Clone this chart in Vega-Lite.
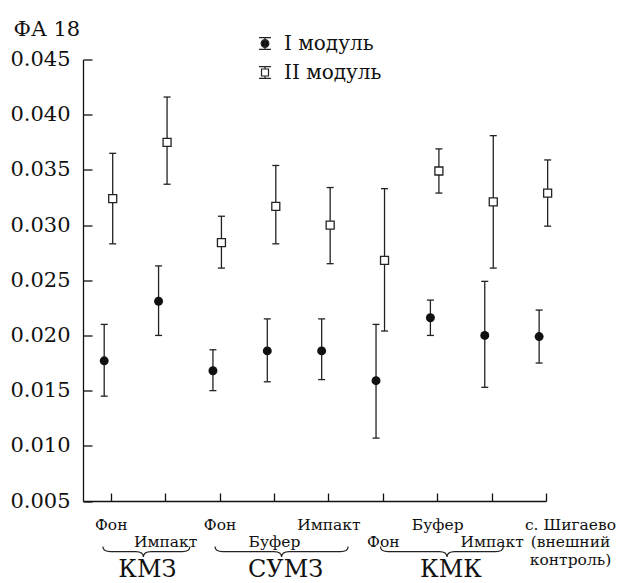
{
  "$schema": "https://vega.github.io/schema/vega-lite/v6.json",
  "width": 463,
  "height": 441.5,
  "autosize": "none",
  "padding": {"left": 83, "top": 59.5, "right": 73, "bottom": 82},
  "background": "white",
  "config": {
    "view": {"stroke": null},
    "font": "DejaVu Serif",
    "text": {"font": "DejaVu Serif"},
    "axis": {"grid": false, "domainColor": "#111", "tickColor": "#111", "labelColor": "#111", "titleColor": "#111", "labelFont": "DejaVu Serif", "titleFont": "DejaVu Serif", "domainWidth": 1.3, "tickWidth": 1.3},
    "legend": {"labelFont": "DejaVu Serif"}
  },
  "datasets": {
    "fa": [
      {"site": "КМЗ", "zone": "Фон", "idx": 1, "module": "I модуль", "mean": 0.0177, "lo": 0.0145, "hi": 0.0210},
      {"site": "КМЗ", "zone": "Фон", "idx": 1, "module": "II модуль", "mean": 0.0324, "lo": 0.0283, "hi": 0.0365},
      {"site": "КМЗ", "zone": "Импакт", "idx": 2, "module": "I модуль", "mean": 0.0231, "lo": 0.0200, "hi": 0.0263},
      {"site": "КМЗ", "zone": "Импакт", "idx": 2, "module": "II модуль", "mean": 0.0375, "lo": 0.0337, "hi": 0.0416},
      {"site": "СУМЗ", "zone": "Фон", "idx": 3, "module": "I модуль", "mean": 0.0168, "lo": 0.0150, "hi": 0.0187},
      {"site": "СУМЗ", "zone": "Фон", "idx": 3, "module": "II модуль", "mean": 0.0284, "lo": 0.0261, "hi": 0.0308},
      {"site": "СУМЗ", "zone": "Буфер", "idx": 4, "module": "I модуль", "mean": 0.0186, "lo": 0.0158, "hi": 0.0215},
      {"site": "СУМЗ", "zone": "Буфер", "idx": 4, "module": "II модуль", "mean": 0.0317, "lo": 0.0283, "hi": 0.0354},
      {"site": "СУМЗ", "zone": "Импакт", "idx": 5, "module": "I модуль", "mean": 0.0186, "lo": 0.0160, "hi": 0.0215},
      {"site": "СУМЗ", "zone": "Импакт", "idx": 5, "module": "II модуль", "mean": 0.0300, "lo": 0.0265, "hi": 0.0334},
      {"site": "КМК", "zone": "Фон", "idx": 6, "module": "I модуль", "mean": 0.0159, "lo": 0.0107, "hi": 0.0210},
      {"site": "КМК", "zone": "Фон", "idx": 6, "module": "II модуль", "mean": 0.0268, "lo": 0.0204, "hi": 0.0333},
      {"site": "КМК", "zone": "Буфер", "idx": 7, "module": "I модуль", "mean": 0.0216, "lo": 0.0200, "hi": 0.0232},
      {"site": "КМК", "zone": "Буфер", "idx": 7, "module": "II модуль", "mean": 0.0349, "lo": 0.0329, "hi": 0.0369},
      {"site": "КМК", "zone": "Импакт", "idx": 8, "module": "I модуль", "mean": 0.0200, "lo": 0.0153, "hi": 0.0249},
      {"site": "КМК", "zone": "Импакт", "idx": 8, "module": "II модуль", "mean": 0.0321, "lo": 0.0261, "hi": 0.0381},
      {"site": "с. Шигаево", "zone": "внешний контроль", "idx": 9, "module": "I модуль", "mean": 0.0199, "lo": 0.0175, "hi": 0.0223},
      {"site": "с. Шигаево", "zone": "внешний контроль", "idx": 9, "module": "II модуль", "mean": 0.0329, "lo": 0.0299, "hi": 0.0359}
    ],
    "groups": [
      {"group": "КМЗ", "center": 1.6},
      {"group": "СУМЗ", "center": 4.14},
      {"group": "КМК", "center": 7.18}
    ]
  },
  "layer": [
    {
      "data": {"name": "fa"},
      "encoding": {
        "x": {"field": "idx", "type": "ordinal", "scale": {"type": "band", "range": [0.5, 489.8], "paddingInner": 0, "paddingOuter": 0}, "axis": null},
        "xOffset": {"field": "module", "type": "nominal", "scale": {"type": "point", "domain": ["I модуль", "II модуль"], "range": [20.7, 29.2], "padding": 0}}
      },
      "layer": [
        {
          "mark": {"type": "rule", "color": "#222", "strokeWidth": 1.3},
          "encoding": {
            "y": {
              "field": "lo", "type": "quantitative",
              "scale": {"domain": [0.005, 0.045], "nice": false, "zero": false},
              "axis": {
                "values": [0.005, 0.01, 0.015, 0.02, 0.025, 0.03, 0.035, 0.04, 0.045],
                "format": ".3f",
                "labelFontSize": 21,
                "tickSize": -9,
                "labelPadding": 22,
                "title": "ФА 18",
                "titleAngle": 0,
                "titleAlign": "left",
                "titleBaseline": "alphabetic",
                "titleX": -70,
                "titleY": -24.5,
                "titleFontSize": 21,
                "titleFontWeight": "normal"
              }
            },
            "y2": {"field": "hi"}
          }
        },
        {
          "mark": {"type": "tick", "orient": "horizontal", "size": 7, "thickness": 1.3, "color": "#222", "opacity": 1},
          "encoding": {"y": {"field": "hi", "type": "quantitative"}}
        },
        {
          "mark": {"type": "tick", "orient": "horizontal", "size": 7, "thickness": 1.3, "color": "#222", "opacity": 1},
          "encoding": {"y": {"field": "lo", "type": "quantitative"}}
        },
        {
          "transform": [{"filter": "datum.module == 'I модуль'"}],
          "mark": {"type": "point", "shape": "circle", "filled": true, "size": 80, "color": "#111", "opacity": 1},
          "encoding": {"y": {"field": "mean", "type": "quantitative"}}
        },
        {
          "transform": [{"filter": "datum.module == 'II модуль'"}],
          "mark": {"type": "point", "shape": "square", "filled": true, "fill": "white", "stroke": "#222", "strokeWidth": 1.3, "size": 64, "opacity": 1},
          "encoding": {"y": {"field": "mean", "type": "quantitative"}}
        },
        {
          "mark": {"type": "point", "filled": true, "opacity": 0},
          "encoding": {
            "y": {"field": "mean", "type": "quantitative"},
            "shape": {
              "field": "module", "type": "nominal",
              "scale": {"range": ["M-0.85,-0.85H0.85M0,-0.85V0.85M-0.85,0.85H0.85M0.55,0A0.55,0.55 0 1,1 -0.55,0A0.55,0.55 0 1,1 0.55,0Z", "M-0.85,-0.85H0.85M0,-0.85V-0.5M0,0.5V0.85M-0.85,0.85H0.85M-0.5,-0.5H0.5V0.5H-0.5Z"]},
              "legend": {"title": null, "orient": "none", "legendX": 172, "legendY": -26, "symbolSize": 196, "symbolOpacity": 1, "labelFontSize": 20, "labelFont": "DejaVu Serif", "labelColor": "#111", "rowPadding": 9, "labelOffset": 9,
                "encode": {"symbols": {"update": {"stroke": {"value": "#222"}, "strokeWidth": {"value": 1.2}, "opacity": {"value": 1}}}}}
            },
            "fill": {
              "field": "module", "type": "nominal",
              "scale": {"range": ["#111111", "#ffffff"]},
              "legend": {"title": null, "orient": "none", "legendX": 172, "legendY": -26, "symbolSize": 196, "symbolOpacity": 1, "labelFontSize": 20, "labelFont": "DejaVu Serif", "labelColor": "#111", "rowPadding": 9, "labelOffset": 9,
                "encode": {"symbols": {"update": {"stroke": {"value": "#222"}, "strokeWidth": {"value": 1.2}, "opacity": {"value": 1}}}}}
            }
          }
        }
      ]
    },
    {
      "data": {"name": "groups"},
      "encoding": {
        "x": {
          "field": "center", "type": "quantitative",
          "scale": {"domain": [0.49, 9], "nice": false, "zero": false},
          "axis": {
            "orient": "bottom",
            "title": null,
            "values": [1, 2, 3, 4, 5, 6, 7, 8, 9],
            "labelExpr": "datum.value == 1 ? 'Фон' : datum.value == 2 ? ['\u00a0', 'Импакт'] : datum.value == 3 ? 'Фон' : datum.value == 4 ? ['\u00a0', 'Буфер'] : datum.value == 5 ? 'Импакт' : datum.value == 6 ? ['\u00a0', 'Фон'] : datum.value == 7 ? 'Буфер' : datum.value == 8 ? ['\u00a0', 'Импакт'] : ['с. Шигаево', '(внешний', 'контроль)']",
            "labelFont": "DejaVu Serif",
            "labelFontSize": 15.5,
            "labelLineHeight": 17.5,
            "labelBaseline": "top",
            "tickSize": -8,
            "labelPadding": 24,
            "labelOverlap": false,
            "labelFlush": false,
            "labelBound": false,
            "labelOffset": {"condition": {"test": "datum.value == 9", "value": 24}, "value": 0}
          }
        },
        "y": {"value": "height"}
      },
      "layer": [
        {
          "transform": [{"filter": "datum.group == 'КМЗ'"}],
          "mark": {"type": "point", "shape": "M-0.633,0.71Q-0.633,0.79 -0.513,0.79L-0.12,0.79Q0,0.79 0,0.875Q0,0.79 0.12,0.79L0.607,0.79Q0.727,0.79 0.727,0.71", "filled": false, "stroke": "#222", "strokeWidth": 1.2, "size": 16384, "opacity": 1}
        },
        {
          "transform": [{"filter": "datum.group == 'СУМЗ'"}],
          "mark": {"type": "point", "shape": "M-1.04,0.71Q-1.04,0.79 -0.92,0.79L-0.12,0.79Q0,0.79 0,0.875Q0,0.79 0.12,0.79L0.92,0.79Q1.04,0.79 1.04,0.71", "filled": false, "stroke": "#222", "strokeWidth": 1.2, "size": 16384, "opacity": 1}
        },
        {
          "transform": [{"filter": "datum.group == 'КМК'"}],
          "mark": {"type": "point", "shape": "M-1.04,0.71Q-1.04,0.79 -0.92,0.79L-0.12,0.79Q0,0.79 0,0.875Q0,0.79 0.12,0.79L0.76,0.79Q0.88,0.79 0.88,0.71", "filled": false, "stroke": "#222", "strokeWidth": 1.2, "size": 16384, "opacity": 1}
        },
        {
          "mark": {"type": "text", "font": "DejaVu Serif", "fontSize": 24, "baseline": "alphabetic", "align": "center", "dx": 4, "dy": 76, "color": "#111"},
          "encoding": {"text": {"field": "group"}}
        }
      ]
    }
  ],
  "resolve": {"scale": {"x": "independent"}, "axis": {"x": "independent"}}
}
